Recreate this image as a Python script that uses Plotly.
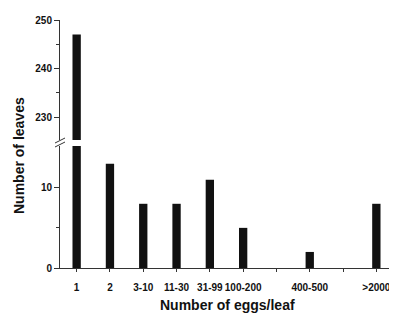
import plotly.graph_objects as go

categories = ["1", "2", "3-10", "11-30", "31-99", "100-200", "201-399", "400-500", "501-2000", ">2000"]
tick_labels = ["1", "2", "3-10", "11-30", "31-99", "100-200", "", "400-500", "", ">2000"]
leaves = [247, 13, 8, 8, 11, 5, None, 2, None, 8]

OFF = 8  # page body margin
W, H = 397 - OFF, 321 - OFF
# page-pixel positions
PX_LEFT, PX_RIGHT, PX_TOP, PX_BOTTOM = 60, 393, 20, 268
L, R, T, B = PX_LEFT - OFF, 397 - PX_RIGHT, PX_TOP - OFF, 321 - PX_BOTTOM
ph = PX_BOTTOM - PX_TOP
pw = PX_RIGHT - PX_LEFT

def px_to_paper(xp, yp):
    return (xp - PX_LEFT) / pw, (PX_BOTTOM - yp) / ph

upper_bottom_px = 140
lower_top_px = 146
up_dom = [px_to_paper(0, upper_bottom_px)[1], 1.0]
lo_dom = [0.0, px_to_paper(0, lower_top_px)[1]]

fig = go.Figure()
bar_color = "#111111"
for ya in ["y", "y2"]:
    fig.add_trace(go.Bar(x=categories, y=leaves, marker=dict(color=bar_color, line=dict(width=0)),
                         xaxis="x" if ya == "y" else "x2", yaxis=ya, showlegend=False))

font = dict(family="Arial, Liberation Sans, sans-serif", color="#111111")
axis_color = "#333333"
tf = dict(size=10, color="#111")

ticktext = ["<b>%s</b>" % t if t else "" for t in tick_labels]

fig.update_layout(
    width=W, height=H,
    margin=dict(l=L, r=R, t=T, b=B, autoexpand=False),
    paper_bgcolor="white", plot_bgcolor="white",
    bargap=0.75,
    font=font,
    xaxis=dict(domain=[0, 1], categoryorder="array", categoryarray=categories,
               tickmode="array", tickvals=categories, ticktext=ticktext,
               showline=True, linecolor=axis_color, linewidth=1, ticks="outside", ticklen=3,
               tickcolor=axis_color, tickfont=tf, showgrid=False, zeroline=False, tickangle=0,
               range=[-0.5, 9.5], anchor="y", ticklabelstandoff=7, automargin=False),
    yaxis=dict(domain=lo_dom, range=[0, 15.2], tickvals=[0, 10], ticktext=["<b>0</b>", "<b>10</b>"],
               showline=True, linecolor=axis_color, linewidth=1, ticks="outside", ticklen=5,
               tickcolor=axis_color, tickfont=tf, showgrid=False, zeroline=False,
               minor=dict(tickvals=[5], ticklen=3, ticks="outside", tickcolor=axis_color),
               anchor="x", automargin=False),
    xaxis2=dict(domain=[0, 1], matches="x", showline=False, showticklabels=False, ticks="",
                showgrid=False, zeroline=False, anchor="y2", range=[-0.5, 9.5], automargin=False),
    yaxis2=dict(domain=up_dom, range=[225.26, 250], tickvals=[230, 240, 250],
                ticktext=["<b>230</b>", "<b>240</b>", "<b>250</b>"],
                showline=True, linecolor=axis_color, linewidth=1, ticks="outside", ticklen=5,
                tickcolor=axis_color, tickfont=tf, showgrid=False, zeroline=False,
                minor=dict(tickvals=[235, 245], ticklen=3, ticks="outside", tickcolor=axis_color),
                anchor="x2", automargin=False),
)

# axis break marks
for dy in (0, 4):
    x0, y0 = px_to_paper(55, 145 + dy - 2)
    x1, y1 = px_to_paper(65, 140 + dy - 2)
    fig.add_shape(type="line", xref="paper", yref="paper", x0=x0, y0=y0, x1=x1, y1=y1,
                  line=dict(color=axis_color, width=1))

tx, ty = px_to_paper(19, 156)
fig.add_annotation(text="<b>Number of leaves</b>", xref="paper", yref="paper",
                   x=tx, y=ty, textangle=-90, showarrow=False,
                   font=dict(size=14, color="#111"), xanchor="center", yanchor="middle")
tx, ty = px_to_paper(228, 305)
fig.add_annotation(text="<b>Number of eggs/leaf</b>", xref="paper", yref="paper",
                   x=tx, y=ty, showarrow=False,
                   font=dict(size=14, color="#111"), xanchor="center", yanchor="middle")

fig.write_html("out.html")
